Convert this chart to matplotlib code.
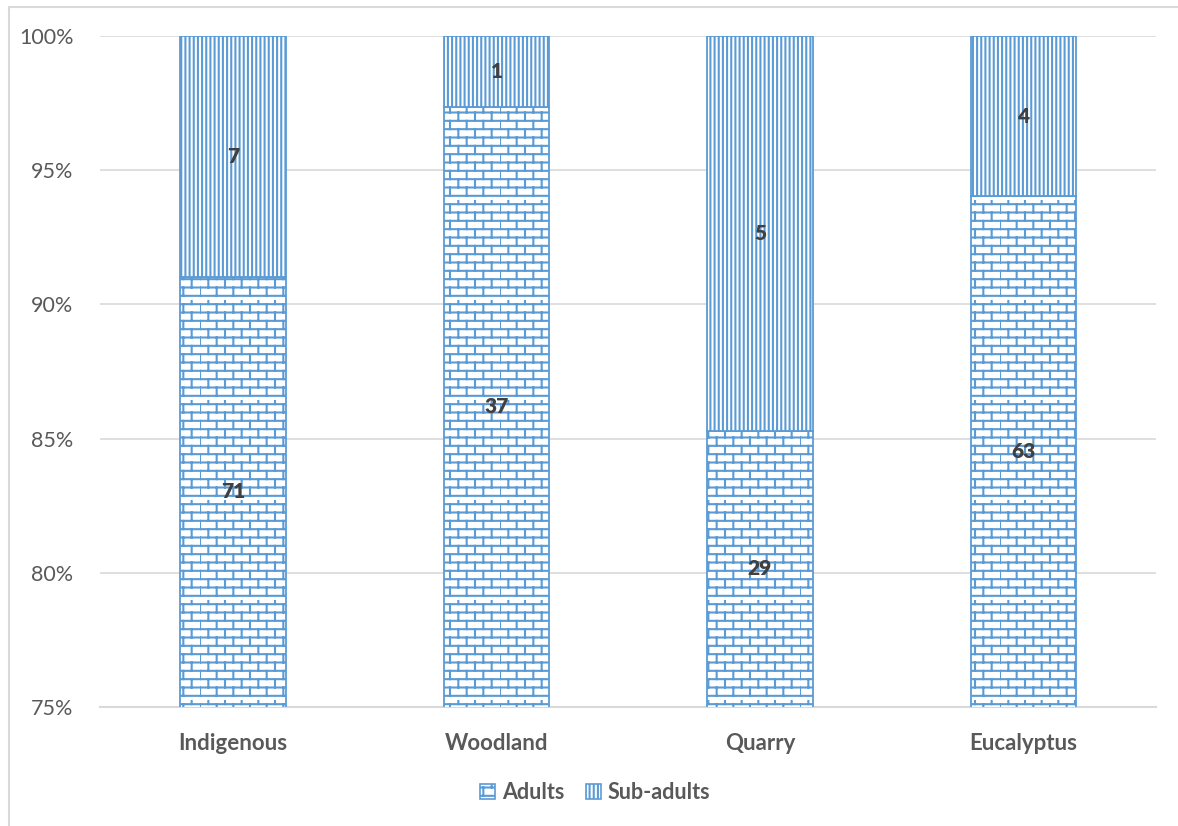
import warnings
import numpy as np
import matplotlib.pyplot as plt
import matplotlib.hatch as mhatch
from matplotlib.path import Path
from matplotlib.patches import Rectangle, Patch

warnings.filterwarnings('ignore')

sites = ['Indigenous', 'Woodland', 'Quarry', 'Eucalyptus']
adults = [71, 37, 29, 63]
sub_adults = [7, 1, 5, 4]

BLUE = '#5B9BD5'
GREY_TXT = '#595959'


# brick pattern for the adult segments ("b" in the hatch string)
class BrickHatch(mhatch.HatchPatternBase):
    rows = 12
    cols = 6

    def __init__(self, hatch, density):
        self.on = 'b' in hatch
        self.num_vertices = (self.rows * 2 + self.rows * self.cols * 2) if self.on else 0

    def set_vertices_and_codes(self, vertices, codes):
        i = 0
        for r in range(self.rows):
            y = (r + 0.5) / self.rows
            vertices[i] = (0.0, y)
            vertices[i + 1] = (1.0, y)
            codes[i] = Path.MOVETO
            codes[i + 1] = Path.LINETO
            i += 2
        for r in range(self.rows):
            y0 = (r + 0.5) / self.rows
            y1 = (r + 1.5) / self.rows
            shift = 0.5 * (r % 2)
            for c in range(self.cols):
                x = (c + shift) / self.cols
                vertices[i] = (x, y0)
                vertices[i + 1] = (x, y1)
                codes[i] = Path.MOVETO
                codes[i + 1] = Path.LINETO
                i += 2


mhatch._hatch_types.append(BrickHatch)

plt.rcParams['font.family'] = ['Lato', 'DejaVu Sans']
plt.rcParams['hatch.linewidth'] = 1.5

adults_arr = np.array(adults, dtype=float)
subs_arr = np.array(sub_adults, dtype=float)
total = adults_arr + subs_arr
adult_pct = adults_arr / total * 100
sub_pct = subs_arr / total * 100

fig = plt.figure(figsize=(11.78, 8.26), dpi=100)
ax = fig.add_axes([0.0849, 0.1441, 0.8964, 0.8123])

x = np.arange(len(sites))
w = 0.40
ax.bar(x, adult_pct, w, color='white', edgecolor=BLUE, hatch='b', linewidth=1.3, zorder=3)
ax.bar(x, sub_pct, w, bottom=adult_pct, color='white', edgecolor=BLUE, hatch='||||',
       linewidth=1.3, zorder=3)

ymin = 75
ax.set_ylim(ymin, 100)
ax.set_xlim(-0.505, 3.503)

# value labels in the middle of the visible part of each segment
for i in range(len(sites)):
    if adult_pct[i] > ymin:
        ya = (ymin + adult_pct[i]) / 2
        ax.text(x[i], ya, str(adults[i]), ha='center', va='center', fontsize=15,
                fontweight='heavy', color='#404040', zorder=5)
    ys = (max(adult_pct[i], ymin) + 100) / 2
    ax.text(x[i], ys, str(sub_adults[i]), ha='center', va='center', fontsize=15,
            fontweight='heavy', color='#404040', zorder=5)

ax.set_yticks(np.arange(75, 101, 5))
ax.set_yticklabels([f'{v}%' for v in range(75, 101, 5)])
ax.set_xticks(x)
ax.set_xticklabels(sites, fontweight='bold')
ax.tick_params(axis='y', length=0, pad=19, labelsize=15.5, labelcolor=GREY_TXT)
ax.tick_params(axis='x', length=0, pad=19, labelsize=16, labelcolor=GREY_TXT)
ax.grid(axis='y', color='#D9D9D9', linewidth=1.2, zorder=0)
ax.set_axisbelow(True)
for s in ['top', 'right', 'left']:
    ax.spines[s].set_visible(False)
ax.spines['bottom'].set_color('#D9D9D9')
ax.spines['bottom'].set_linewidth(1.5)

handles = [Patch(facecolor='white', edgecolor=BLUE, hatch='b', linewidth=1.2),
           Patch(facecolor='white', edgecolor=BLUE, hatch='||||', linewidth=1.2)]
leg = fig.legend(handles, ['Adults', 'Sub-adults'], loc='center', bbox_to_anchor=(0.505, 0.041),
                 ncol=2, frameon=False, handlelength=0.7, handleheight=0.7, handletextpad=0.3,
                 columnspacing=1.0, prop={'size': 15.5, 'weight': 'bold'})
for t in leg.get_texts():
    t.set_color(GREY_TXT)

# outer chart frame (runs off the right and bottom edges)
fig.patches.append(Rectangle((8.5 / 1178, -20 / 826), 1200 / 1178, 839.5 / 826,
                             transform=fig.transFigure, fill=False,
                             edgecolor='#D9D9D9', linewidth=1.5))

fig.savefig('out.png', dpi=100)
